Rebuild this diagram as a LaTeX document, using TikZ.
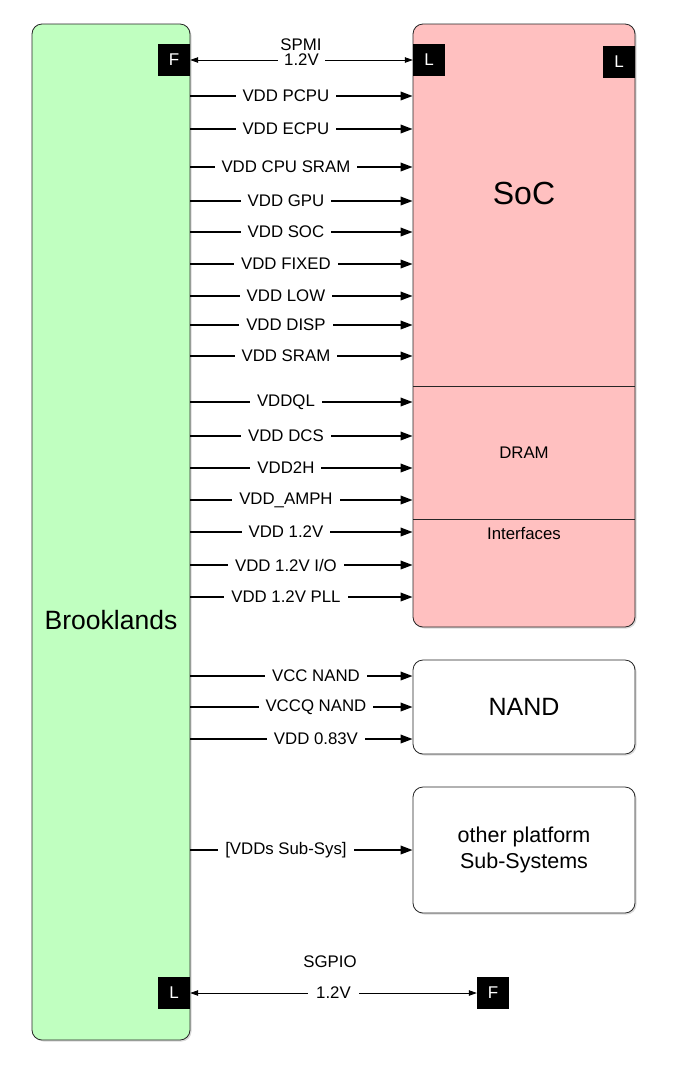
\documentclass[tikz,border=0pt]{standalone}
\usepackage{fontspec}
\setmainfont{Liberation Sans}
\usetikzlibrary{arrows.meta,shadows}
\definecolor{brookgreen}{RGB}{192,255,192}
\definecolor{socpink}{RGB}{255,192,192}
\begin{document}
\begin{tikzpicture}[x=1pt,y=-1pt,
  box/.style={draw=black!85, rounded corners=10pt, line width=0.8pt, inner sep=0pt,
    drop shadow={opacity=0.3,shadow xshift=1.5pt,shadow yshift=-1.5pt}},
  tag/.style={fill=black, text=white, minimum size=32pt, inner sep=0pt, font=\fontsize{17}{17}\selectfont},
  pwr/.style={line width=1.8pt, -{Triangle[length=12pt,width=8.5pt]}},
  sig/.style={line width=0.8pt, {Triangle[length=8pt,width=5.5pt]}-{Triangle[length=8pt,width=5.5pt]}},
  lbl/.style={fill=white, inner ysep=2pt, inner xsep=7pt, font=\fontsize{16.8}{16.8}\selectfont}]
\useasboundingbox (0,0) rectangle (676,1072);
% boxes
\node[box, fill=brookgreen, minimum width=158pt, minimum height=1016pt] (brook) at (111,532) {};
\node[font=\fontsize{26.5}{26.5}\selectfont] (brooktxt) at (111,620) {Brooklands};
\node[box, fill=socpink, minimum width=222pt, minimum height=603pt] (soc) at (524,325.5) {};
\node[font=\fontsize{32}{32}\selectfont] (soctxt) at (524,193) {SoC};
\coordinate (d1l) at (413,386); \coordinate (d1r) at (635,386);
\coordinate (d2l) at (413,519); \coordinate (d2r) at (635,519);
\draw[line width=0.8pt, black!85] (d1l) -- (d1r);
\draw[line width=0.8pt, black!85] (d2l) -- (d2r);
\node[font=\fontsize{16.8}{16.8}\selectfont] (dram) at (524,453) {DRAM};
\node[font=\fontsize{16.8}{16.8}\selectfont] (intf) at (524,533) {Interfaces};
\node[box, fill=white, minimum width=222pt, minimum height=94pt] (nand) at (524,707) {};
\node[font=\fontsize{25}{25}\selectfont] (nandtxt) at (524,707) {NAND};
\node[box, fill=white, minimum width=222pt, minimum height=126pt] (other) at (524,850) {};
\node[font=\fontsize{21.5}{26}\selectfont, align=center] (othertxt) at (524,850) {other platform\\Sub-Systems};
% tags
\node[tag] (F1) at (174,60) {F};
\node[tag] (L1) at (429,60) {L};
\node[tag] (L2) at (619,62) {L};
\node[tag] (L3) at (174,993) {L};
\node[tag] (F2) at (493,993) {F};
% SPMI
\draw[sig] (F1.east) -- node[lbl, inner ysep=0.5pt, inner xsep=6pt]{1.2V} (L1.west);
\node[font=\fontsize{16.8}{16.8}\selectfont] (spmi) at (301,45) {SPMI};
% SGPIO
\draw[sig] (L3.east) -- node[lbl, inner ysep=1pt, inner xsep=8pt]{1.2V} (F2.west);
\node[font=\fontsize{16.8}{16.8}\selectfont] (sgpio) at (330,962) {SGPIO};
% power rails to SoC
\foreach \y/\t [count=\i] in {96/{VDD PCPU},129/{VDD ECPU},167/{VDD CPU SRAM},201/{VDD GPU},232/{VDD SOC},264/{VDD FIXED},296/{VDD LOW},325/{VDD DISP},356/{VDD SRAM},402/{VDDQL},436/{VDD DCS},468/{VDD2H},500/{VDD\_AMPH},532/{VDD 1.2V},565/{VDD 1.2V I/O},597/{VDD 1.2V PLL}} {
  \coordinate (s\i) at (brook.east |- 0,\y);
  \coordinate (t\i) at (soc.west |- 0,\y);
  \draw[pwr] (s\i) -- node[lbl, pos=0.43]{\t} (t\i);
}
% NAND rails
\foreach \y/\t [count=\i] in {676/{VCC NAND},707/{VCCQ NAND},739/{VDD 0.83V}} {
  \coordinate (n\i) at (brook.east |- 0,\y);
  \coordinate (m\i) at (nand.west |- 0,\y);
  \draw[pwr] (n\i) -- node[lbl, pos=0.565]{\t} (m\i);
}
% sub-systems
\coordinate (o1) at (brook.east |- other.west);
\draw[pwr] (o1) -- node[lbl, pos=0.43]{[VDDs Sub-Sys]} (other.west);
\end{tikzpicture}
\end{document}
